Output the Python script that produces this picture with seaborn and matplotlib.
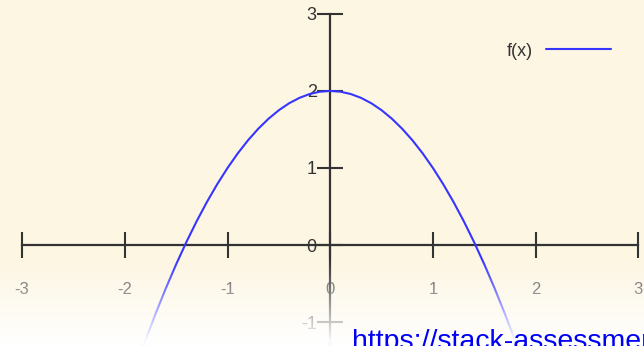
import numpy as np
import pandas as pd
import matplotlib
matplotlib.use("Agg")
import matplotlib.pyplot as plt
import seaborn as sns

# Sampled points of f(x)
x_values = [-1.9, -1.8, -1.7, -1.6, -1.5, -1.4, -1.3, -1.2, -1.1, -1.0,
            -0.9, -0.8, -0.7, -0.6, -0.5, -0.4, -0.3, -0.2, -0.1, 0.0,
            0.1, 0.2, 0.3, 0.4, 0.5, 0.6, 0.7, 0.8, 0.9, 1.0,
            1.1, 1.2, 1.3, 1.4, 1.5, 1.6, 1.7, 1.8, 1.9]
f_values = [-1.61, -1.24, -0.89, -0.56, -0.25, 0.04, 0.31, 0.56, 0.79, 1.00,
            1.19, 1.36, 1.51, 1.64, 1.75, 1.84, 1.91, 1.96, 1.99, 2.00,
            1.99, 1.96, 1.91, 1.84, 1.75, 1.64, 1.51, 1.36, 1.19, 1.00,
            0.79, 0.56, 0.31, 0.04, -0.25, -0.56, -0.89, -1.24, -1.61]
x_ticks = [-3, -2, -1, 0, 1, 2, 3]
y_ticks = [-1, 0, 1, 2, 3]
series_label = "f(x)"
url_text = "https://stack-assessment.org"

sns.set_style("white")
plt.rcParams["font.family"] = ["Liberation Sans", "DejaVu Sans"]

W, H = 644, 346
BG = "#FDF6E3"
AXIS = "#333333"
CURVE = "#3535FF"

fig = plt.figure(figsize=(W / 100, H / 100), dpi=100, facecolor=BG)
ax = fig.add_axes([0, 0, 1, 1])
ax.set_facecolor("none")

df = pd.DataFrame({"x": x_values, "y": f_values})
sns.lineplot(data=df, x="x", y="y", ax=ax, color=CURVE, linewidth=1.5,
             label=series_label)

ax.set_xlim(-3.215, 3.055)
ax.set_ylim(-1.31, 3.18)
ax.set_xlabel("")
ax.set_ylabel("")

# Cartesian axes crossing at the origin
for side in ("top", "right"):
    ax.spines[side].set_visible(False)
ax.spines["bottom"].set_position(("data", 0))
ax.spines["left"].set_position(("data", 0))
ax.spines["bottom"].set_bounds(-3, 3)
ax.spines["left"].set_bounds(-1.31, 3)
for side in ("bottom", "left"):
    ax.spines[side].set_color(AXIS)
    ax.spines[side].set_linewidth(1.6)
    ax.spines[side].set_zorder(1)

ax.set_xticks(x_ticks)
ax.set_xticklabels([str(t) for t in x_ticks])
ax.set_yticks(y_ticks)
ax.set_yticklabels([str(t) for t in y_ticks])
ax.tick_params(axis="x", bottom=True, direction="inout", length=18.7,
               width=1.5, color=AXIS, pad=17.0, labelsize=12,
               labelcolor="#555555")
ax.tick_params(axis="y", left=True, direction="inout", length=18.7,
               width=1.5, color=AXIS, pad=0.3, labelsize=13,
               labelcolor="#333333")

leg = ax.legend(loc="center right", bbox_to_anchor=(611 / W, 1 - 51 / H),
                frameon=False, markerfirst=False, handlelength=3.6,
                handletextpad=0.7, borderpad=0, borderaxespad=0,
                fontsize=13)
for t in leg.get_texts():
    t.set_color("#333333")

# White fade across the lower edge
overlay = fig.add_axes([0, 0, 1, 1], zorder=5)
overlay.axis("off")
rows = np.arange(H)
alpha = np.clip((rows - 258) / 82.0, 0, 1) ** 1.1 * 0.97
rgba = np.ones((H, 1, 4))
rgba[:, 0, 3] = alpha
overlay.imshow(rgba, aspect="auto", extent=[0, 1, 0, 1], origin="upper")
overlay.set_xlim(0, 1)
overlay.set_ylim(0, 1)

fig.text(352 / W, -3.0 / H, url_text, color="#0000F5", fontsize=20.5,
         ha="left", va="baseline", zorder=10)

fig.savefig("out.png", dpi=100, facecolor=BG)
